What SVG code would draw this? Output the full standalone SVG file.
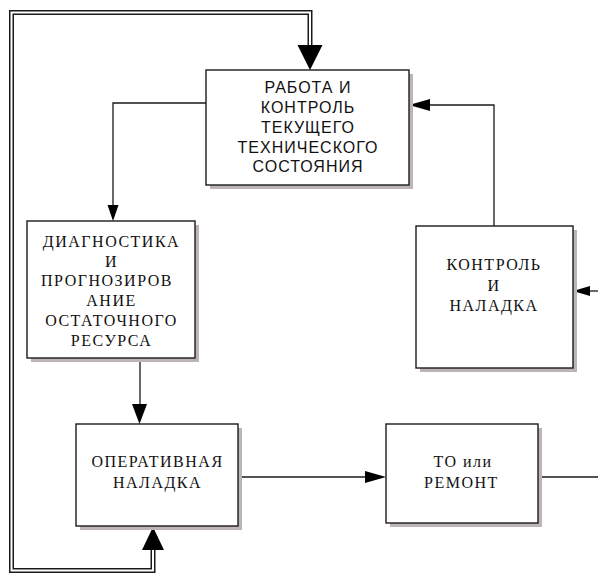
<svg xmlns="http://www.w3.org/2000/svg" width="598" height="574" viewBox="0 0 598 574">
<style>
.shadow{fill:#bdb5b5}
.box{fill:#fff;stroke:#1a1a1a;stroke-width:1.4}
.sans{font-family:"Liberation Sans",Arial,sans-serif;font-size:16px;letter-spacing:1px;fill:#111;text-anchor:middle}
.serif{font-family:"Liberation Serif","Times New Roman",serif;font-size:16px;letter-spacing:1.5px;fill:#111;text-anchor:middle}
.line{fill:none;stroke:#1a1a1a;stroke-width:1.3}
.dbl-out{fill:none;stroke:#1a1a1a;stroke-width:5}
.dbl-in{fill:none;stroke:#fff;stroke-width:2}
.head{fill:#000}
</style>
<rect width="598" height="574" fill="#fff"/>
<g id="connectors">
  <path class="dbl-out" d="M153,548 V570.5 H11.5 V12.5 H310 V46"/>
  <path class="dbl-in" d="M153,548 V570.5 H11.5 V12.5 H310 V46"/>
  <polygon class="head" points="297.5,45 322.5,45 310,70"/>
  <polygon class="head" points="142,550 164,550 153,527"/>
  <path class="line" d="M206,103 H113 V210"/>
  <polygon class="head" points="107.5,205 118.5,205 113,221"/>
  <path class="line" d="M140,358 V410"/>
  <polygon class="head" points="132,404 147,404 139.5,424"/>
  <path class="line" d="M238,477 H370"/>
  <polygon class="head" points="365,471 365,483 386,477"/>
  <path class="line" d="M538,477 H598"/>
  <path class="line" d="M494,226 V105 H428"/>
  <polygon class="head" points="430,99 430,111 409,105"/>
  <path class="line" d="M598,291 H585"/>
  <polygon class="head" points="590,286 590,296 573,291"/>
</g>
<g id="node-rabota">
  <rect class="shadow" x="210" y="74" width="203" height="115"/>
  <rect class="box" x="206" y="70" width="203" height="115"/>
  <text class="sans" x="308" y="93">РАБОТА И</text>
  <text class="sans" x="308" y="113">КОНТРОЛЬ</text>
  <text class="sans" x="308" y="133">ТЕКУЩЕГО</text>
  <text class="sans" x="308" y="152.5">ТЕХНИЧЕСКОГО</text>
  <text class="sans" x="308" y="172">СОСТОЯНИЯ</text>
</g>
<g id="node-diagnostika">
  <rect class="shadow" x="31" y="225" width="168" height="137"/>
  <rect class="box" x="27" y="221" width="168" height="137"/>
  <text class="serif" x="111.5" y="247">ДИАГНОСТИКА</text>
  <text class="serif" x="111.5" y="267">И</text>
  <text class="serif" x="107" y="286">ПРОГНОЗИРОВ</text>
  <text class="serif" x="111.5" y="306">АНИЕ</text>
  <text class="serif" x="111.5" y="326">ОСТАТОЧНОГО</text>
  <text class="serif" x="111.5" y="346">РЕСУРСА</text>
</g>
<g id="node-kontrol">
  <rect class="shadow" x="420" y="230" width="157" height="142"/>
  <rect class="box" x="416" y="226" width="157" height="142"/>
  <text class="serif" x="494" y="270">КОНТРОЛЬ</text>
  <text class="serif" x="494" y="291">И</text>
  <text class="serif" x="494" y="311">НАЛАДКА</text>
</g>
<g id="node-operativnaya">
  <rect class="shadow" x="80" y="428" width="162" height="102"/>
  <rect class="box" x="76" y="424" width="162" height="102"/>
  <text class="serif" x="157.5" y="467">ОПЕРАТИВНАЯ</text>
  <text class="serif" x="157.5" y="488">НАЛАДКА</text>
</g>
<g id="node-remont">
  <rect class="shadow" x="390" y="428" width="152" height="99"/>
  <rect class="box" x="386" y="424" width="152" height="99"/>
  <text class="serif" x="463" y="467">ТО или</text>
  <text class="serif" x="461.5" y="488">РЕМОНТ</text>
</g>
</svg>
